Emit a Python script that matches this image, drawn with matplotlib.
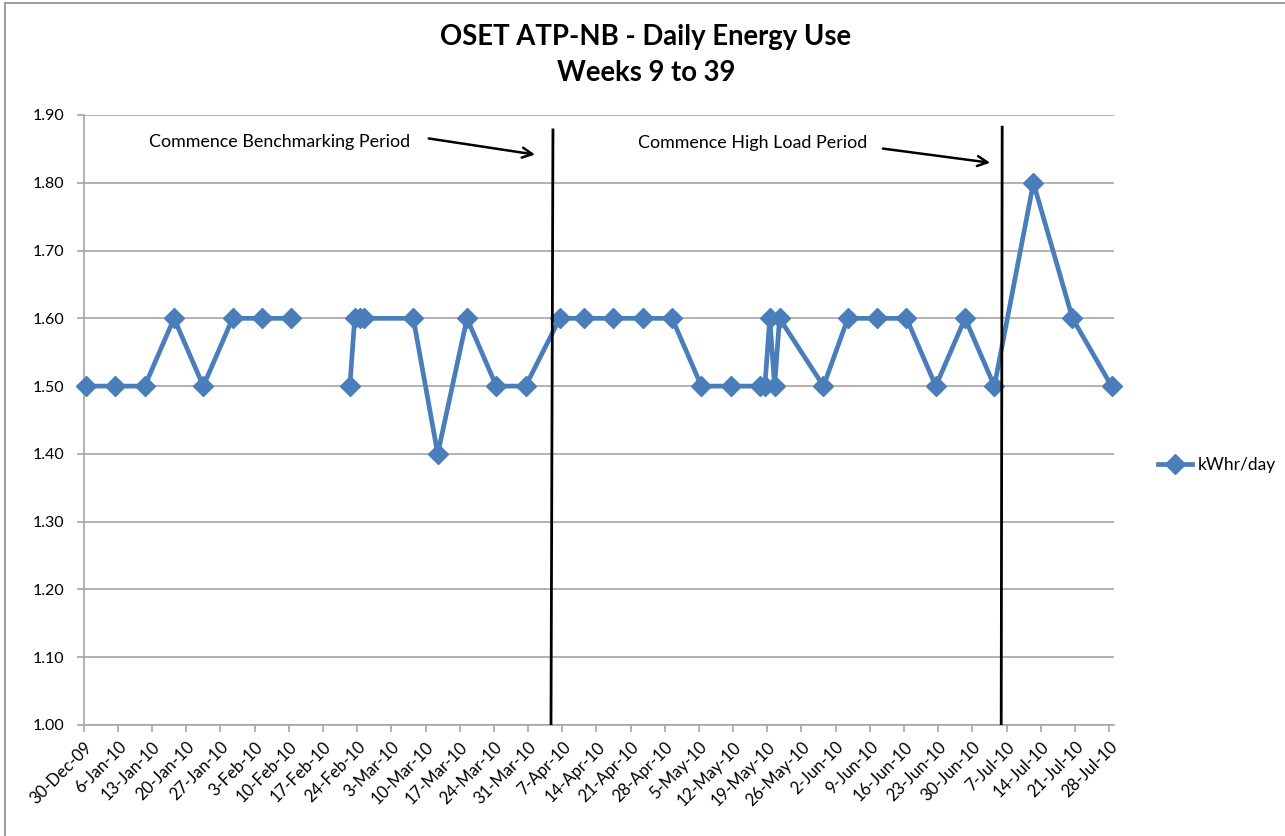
import datetime as dt
import matplotlib
matplotlib.use("Agg")
import matplotlib.pyplot as plt
import matplotlib.dates as mdates
from matplotlib.lines import Line2D
import numpy as np

plt.rcParams["font.family"] = ["Lato", "DejaVu Sans"]

# ---------------- DATA ---------------- #

start = dt.date(2009, 12, 30)

# days after 30-Dec-09 for each reading
day_offsets = [0, 6, 12, 18, 24, 30, 36, 42, 48, 54, 55, 56, 57, 67, 72, 78, 84, 90,
               97, 102, 108, 114, 120, 126, 132, 138, 139, 140, 141, 142, 151, 156,
               162, 168, 174, 180, 186, 194, 202, 210]
kwhr_day = [1.50, 1.50, 1.50, 1.60, 1.50, 1.60, 1.60, 1.60, np.nan, 1.50, 1.60, 1.60, 1.60,
            1.60, 1.40, 1.60, 1.50, 1.50, 1.60, 1.60, 1.60, 1.60, 1.60, 1.50, 1.50, 1.50,
            1.50, 1.60, 1.50, 1.60, 1.50, 1.60, 1.60, 1.60, 1.50, 1.60, 1.50, 1.80, 1.60, 1.50]

dates = [start + dt.timedelta(days=d) for d in day_offsets]
tick_dates = [start + dt.timedelta(days=7 * i) for i in range(31)]
tick_labels = [f"{d.day}-{d.strftime('%b-%y')}" for d in tick_dates]

period_labels = ["Commence Benchmarking Period", "Commence High Load Period"]

# ---------------- PLOT ---------------- #

W, H = 1285, 836
fig = plt.figure(figsize=(W / 100, H / 100), dpi=100)
ax = fig.add_axes([83.7 / W, 1 - 725 / H, (1114 - 83.7) / W, (725 - 115) / H])

x = mdates.date2num(dates)
x0 = mdates.date2num(start)

blue = "#4A7EBB"
ax.plot(x, kwhr_day, color=blue, lw=3.4, marker="D", markersize=10,
        markeredgecolor=blue, label="kWhr/day", zorder=3, clip_on=False)

# axes
ax.set_xlim(x0 - 0.5, x0 + 210.5)
ax.set_ylim(1.0, 1.9)
ax.set_yticks(np.arange(1.0, 1.91, 0.1))
ax.set_yticklabels([f"{v:.2f}" for v in np.arange(1.0, 1.91, 0.1)], fontsize=11.5)
ax.set_xticks(mdates.date2num(tick_dates) - 0.5)
ax.set_xticklabels(tick_labels, rotation=45, ha="right", rotation_mode="anchor", fontsize=12)
ax.grid(axis="y", color="#A6A6A6", lw=1.2)
ax.set_axisbelow(True)
for s in ["top", "right"]:
    ax.spines[s].set_visible(False)
for s in ["left", "bottom"]:
    ax.spines[s].set_color("#A6A6A6")
    ax.spines[s].set_linewidth(1.2)
ax.tick_params(axis="both", color="#A6A6A6", length=5, width=1.2)
ax.tick_params(axis="y", pad=9)
ax.tick_params(axis="x", pad=5)

# period markers
ax.plot([x0 + 95.6, x0 + 95.2], [1.878, 1.0], color="black", lw=2, zorder=4)
ax.plot([x0 + 187.6, x0 + 187.4], [1.882, 1.0], color="black", lw=2, zorder=4)

ax.annotate("", xy=(x0 + 92.5, 1.841), xytext=(x0 + 69.6, 1.866),
            arrowprops=dict(arrowstyle="->", color="black", lw=1.8, mutation_scale=18))
ax.annotate("", xy=(x0 + 185.7, 1.829), xytext=(x0 + 162.6, 1.851),
            arrowprops=dict(arrowstyle="->", color="black", lw=1.8, mutation_scale=18))
ax.text(x0 + 12.9, 1.860, period_labels[0], fontsize=12.9, va="center", ha="left")
ax.text(x0 + 113, 1.859, period_labels[1], fontsize=12.9, va="center", ha="left")

# title
fig.text(646 / W, 1 - 37 / H, "OSET ATP-NB - Daily Energy Use", ha="center", va="center",
         fontsize=19.8, fontweight="bold")
fig.text(646 / W, 1 - 73 / H, "Weeks 9 to 39", ha="center", va="center",
         fontsize=19.8, fontweight="bold")

# legend
handle = Line2D([], [], color=blue, lw=3.4, marker="D", markersize=10)
fig.legend([handle], ["kWhr/day"], loc="center left", bbox_to_anchor=(1142 / W, 1 - 465 / H),
           frameon=False, fontsize=12.5, handlelength=2.0, handletextpad=0.3)

# chart area border
fig.add_artist(Line2D([5 / W, 1], [1 - 3 / H, 1 - 3 / H], color="#A0A0A0", lw=1.5))
fig.add_artist(Line2D([5 / W, 5 / W], [0, 1 - 3 / H], color="#A0A0A0", lw=1.5))

fig.savefig("out.png", dpi=100)
